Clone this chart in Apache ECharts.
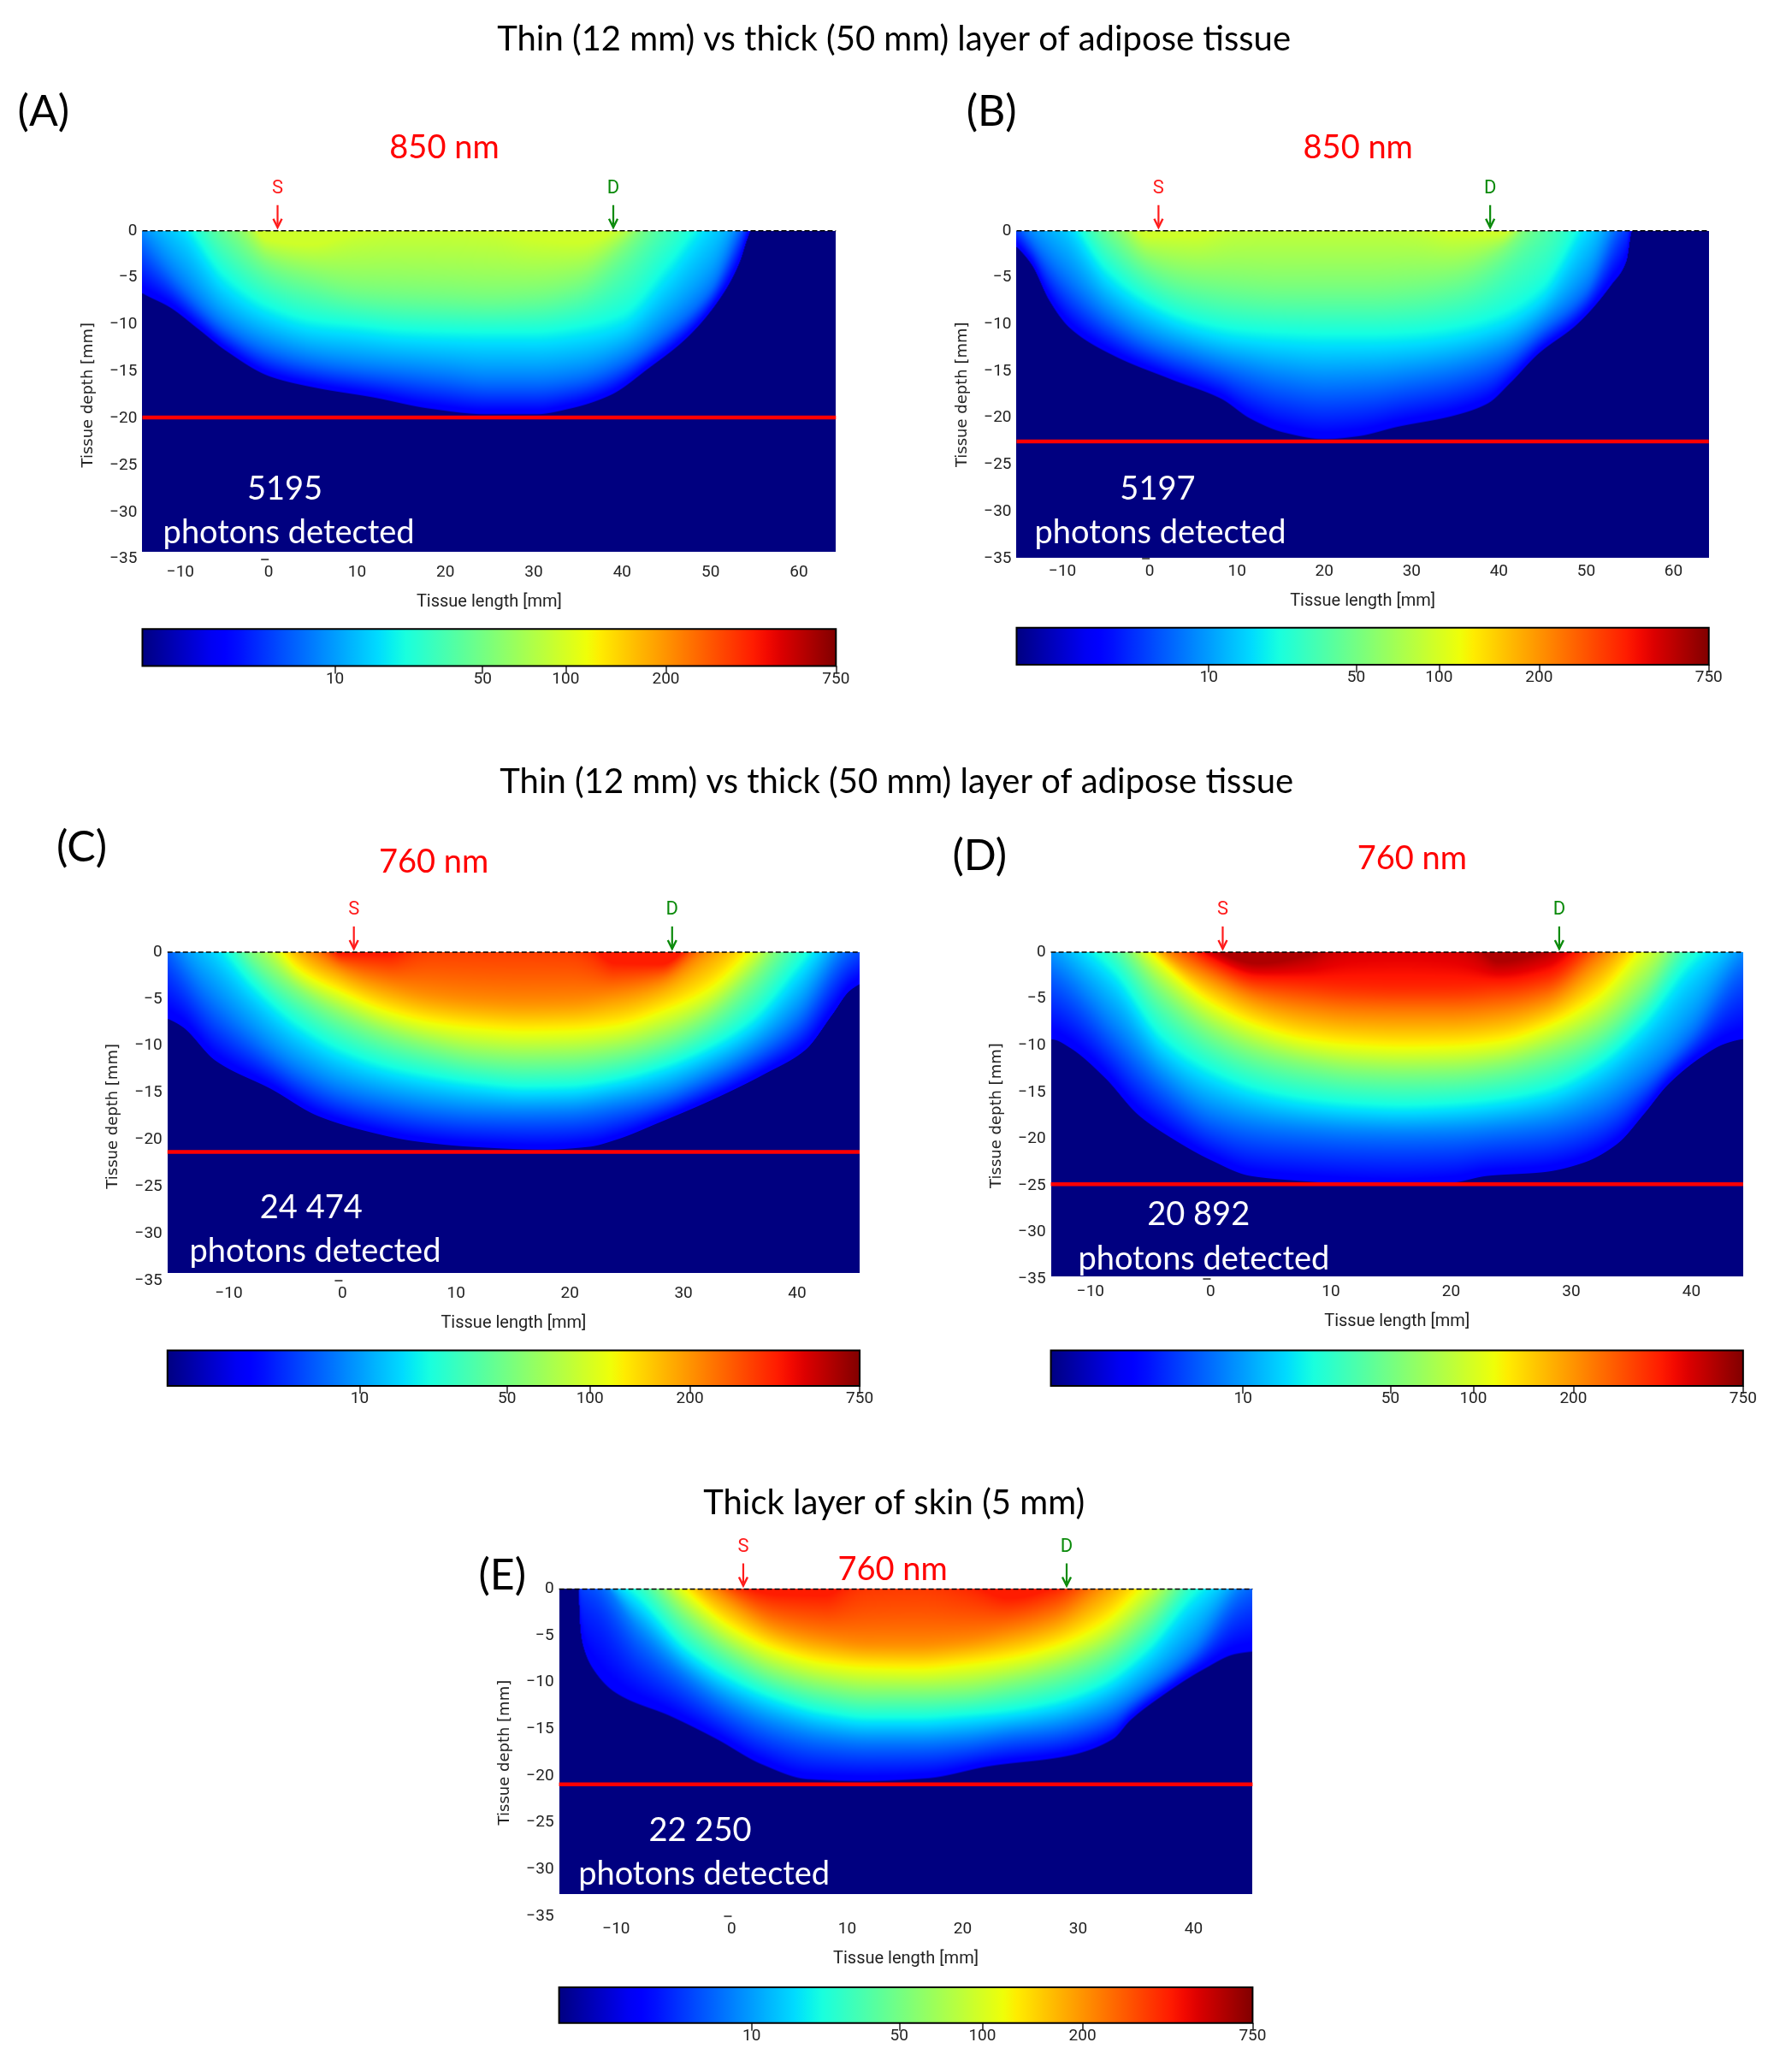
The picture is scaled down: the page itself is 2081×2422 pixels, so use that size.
<!DOCTYPE html>
<html><head><meta charset="utf-8">
<style>html,body{margin:0;padding:0;background:#fff}#c{width:2081px;height:2422px}</style>
<script src="https://cdn.jsdelivr.net/npm/echarts@6/dist/echarts.min.js"></script>
</head><body><div id="c"></div>
<script>
// ---------- values ----------
const xTicksLong = [-10,0,10,20,30,40,50,60];
const xTicksShort = [-10,0,10,20,30,40];
const yTicks = [0,-5,-10,-15,-20,-25,-30,-35];
const barTickLabels = [10,50,100,200,750];
const barTickPos = [0.2776,0.4905,0.6103,0.7548,1];
const levelT = {azure:0.24,cyan:0.36,green:0.5,lime:0.6,yellow:0.65,orange:0.77,red:0.88,dark:0.96};

// Panel A, 850 nm
const A_edgeX = [-16,-14.3,-11.2,-8,-4.9,0.2,5.4,11.8,18.2,24.6,30.3,34.1,38.6,43,47.5,51.4,53.3,54.1,54.45,54.5];
const A_edge  = [-5.5,-6.6,-8.1,-10.4,-12.7,-15.5,-16.7,-17.7,-18.9,-19.5,-19.5,-18.9,-17.5,-14.6,-11.2,-6.7,-3.3,-1,-0.1,0];
const A_x     = [-16,-10,-5,0,5,10,15,20,25,30,35,40,45,50,55,66];
const A_azure = [1,-5.5,-10,-12.5,-13.8,-14.5,-15,-15.5,-16,-16,-15.5,-13.8,-10.5,-6,3,8];
const A_cyan  = [5,1,-5.3,-8.5,-10,-10.5,-11,-11.2,-11.3,-11.3,-10.8,-9.5,-4.5,1.5,6,12];
const A_green = [10,6,1,-3.5,-5,-6,-6.3,-6.5,-6.7,-6.5,-5.5,-2,3,7,11,16];
const A_lime  = [15,11,6,-1,-1.5,-0.3,0.3,0.3,0,-1,-1.3,0.5,5,10,15,20];

// Panel B, 850 nm
const B_edgeX = [-16,-15.2,-13.5,-11.5,-9.2,-4.1,2.4,8.2,11.5,15.4,20,23.8,28.3,34.8,38.7,41.3,44.5,49,52.9,54.6,55.15,55.2];
const B_edge  = [-1,-1.7,-3.6,-7.4,-10.3,-13.3,-15.8,-17.9,-20,-21.5,-22.2,-21.9,-20.9,-19.7,-18.4,-16.2,-13.1,-9.9,-5.7,-3.2,-0.2,0];
const B_x     = [-16,-10,-5,0,5,10,15,20,25,30,35,40,45,50,55,66];
const B_azure = [2,-4.5,-9,-11.8,-13.4,-14.8,-16,-16.6,-16.4,-15.8,-15,-13.5,-10.2,-6,3,8];
const B_cyan  = [6,2,-4.5,-8,-10,-11,-11.4,-11.6,-11.6,-11.4,-10.8,-9.5,-6.5,1,7,12];
const B_green = [12,6,0.8,-3.5,-5,-5.5,-5.8,-5.8,-5.8,-5.5,-4.8,-2.5,2,7,12,17];
const B_lime  = [16,11,5,-0.6,-0.6,0.8,1.2,1.2,1.2,0.8,-0.4,-0.3,4,9,14,19];

// Panel C, 760 nm
const C_edgeX = [-16,-15.3,-14.1,-11.2,-6.2,-2.2,2.3,6.3,11.3,17.7,21.7,24.2,27.7,32.7,37.2,40.7,43.1,44.6,46];
const C_edge  = [-6.8,-7.1,-7.9,-11.5,-14.6,-17.4,-19.1,-20.1,-20.7,-21,-20.7,-19.9,-18.2,-15.6,-12.9,-10.4,-6.6,-4.1,-3];
const C_x      = [-16,-12,-8,-4,0,4,8,12,16,20,24,28,32,36,40,44,48];
const C_azure  = [2,-4.5,-9,-12.5,-14.8,-16,-16.8,-17.2,-17.3,-17.2,-16.5,-15.4,-13.4,-10.8,-7,0,4];
const C_cyan   = [6,2,-3.7,-8,-10.8,-12.5,-13.5,-14.2,-14.6,-14.5,-13.8,-12.5,-10.5,-7.5,-2,4,8];
const C_green  = [11,7,0,-4.2,-7,-9,-10.3,-11.2,-11.5,-11.4,-10.8,-9.5,-7.2,-3,3,8,12];
const C_yellow = [16,11,5,-1.6,-4.2,-6.2,-7.4,-8,-8.3,-8.2,-7.7,-6.2,-3.9,0.6,7,12,16];
const C_orange = [20,15,9,1.5,-1.8,-3.3,-4.2,-4.7,-4.9,-4.8,-4.3,-3.2,0.3,5,11,16,20];
const C_red    = [24,19,13,6,-0.2,-0.3,2.5,3,3,2.5,-1.2,-1.3,3,9,15,20,24];

// Panel D, 760 nm
const D_edgeX = [-16,-13.1,-11.7,-8.8,-6,-3.2,0,3.3,7.1,10.8,15.5,20.2,23,27.7,31,33.8,36.1,38,40.8,42.7,44.1,46];
const D_edge  = [-9,-9.3,-10.2,-13.4,-17.4,-19.9,-22.2,-23.9,-24.4,-24.7,-24.9,-24.6,-23.9,-23.5,-22.5,-20.5,-17.2,-14.2,-11.2,-9.8,-9.3,-9];
const D_x      = [-16,-12,-8,-4,0,4,8,12,16,20,24,28,32,36,40,44,48];
const D_azure  = [1,-3,-8.5,-14,-17.5,-18.8,-19.3,-19.6,-19.7,-19.6,-19.2,-18.6,-17,-13.5,-8.5,-1.5,2];
const D_cyan   = [6,2,-2.5,-9.5,-13,-15,-16,-16.5,-16.7,-16.5,-16,-15,-12.5,-8,-1.5,3,7];
const D_green  = [9,5.5,1.5,-4.5,-8.7,-11,-12.2,-12.9,-13.1,-13,-12.4,-11,-8.7,-4,3,7,11];
const D_yellow = [13,9,4,-1.2,-5.3,-7.8,-9.2,-9.8,-10,-9.9,-9.4,-7.8,-4.8,0.8,6,10,14];
const D_orange = [17,12,7,0.5,-2.7,-5,-6,-6.5,-6.6,-6.6,-6.2,-5,-1,4,9,13,17];
const D_red    = [21,15,10,3.5,-0.8,-2.8,-3,-3.1,-3.2,-3.2,-3.2,-2.3,2,7,12,16,20];
const D_dark   = [25,19,14,7,0.5,-1.2,-0.3,4,6,4,-1,0.3,5,10,15,20,24];

// Panel E, 760 nm
const E_edgeX = [-13.25,-13.2,-13.1,-12.8,-12,-10.1,-5.2,-1.3,2.6,6.6,11.5,16.9,22.3,29.1,33,34.5,37,40.9,43.6,46];
const E_edge  = [0,-2,-4.3,-6.3,-8.5,-11,-13.6,-16,-18.7,-20.3,-20.5,-20.2,-18.9,-17.8,-16,-14,-11.6,-8.5,-6.9,-6.5];
const E_x      = [-16,-12,-8,-4,0,4,8,12,16,20,24,28,32,36,40,44,48];
const E_azure  = [4,1.5,-5,-9.5,-12.8,-15,-16.2,-16.6,-16.6,-16.3,-15.6,-15,-13.6,-10.5,-6.5,-0.3,3];
const E_cyan   = [8,3,-1.2,-6.5,-9.8,-12,-13.4,-14,-14,-13.7,-13.2,-12.3,-10.5,-6.8,-1,3,7];
const E_green  = [12,7,2.5,-3,-6.8,-9.3,-10.6,-11.2,-11.2,-11,-10.2,-9,-7,-3,3,7,11];
const E_yellow = [16,10,5.5,0,-4,-6.5,-7.8,-8.3,-8.4,-8,-7.3,-6,-3.6,1,6,10,14];
const E_orange = [20,14,8.5,2.5,-1.2,-3.9,-5,-5.5,-5.5,-5.2,-4.4,-3,0.5,5,9,13,17];
const E_red    = [24,18,12,6,0.8,-0.6,-0.7,2.5,3,1,-1,0.2,4,9,13,17,21];

const redDepth = {A:-19.9,B:-22.5,C:-21.3,D:-24.85,E:-20.9};
const heatBottom = {A:-34.2,B:-34.9,C:-34.2,D:-34.7,E:-32.6};
const xRange = {A:[-14.3,64.2],B:[-15.26,64.05],C:[-15.4,45.5],D:[-13.3,44.3],E:[-14.95,45.1]};
const sourcePos = {A:1,B:1,C:1,D:1,E:1};
const detectorPos = {A:39,B:39,C:29,D:29,E:29};
const photons = {A:'5195',B:'5197',C:'24 474',D:'20 892',E:'22 250'};
const wavelengths = {A:'850 nm',B:'850 nm',C:'760 nm',D:'760 nm',E:'760 nm'};
const headings = ['Thin (12 mm) vs thick (50 mm) layer of adipose tissue','Thin (12 mm) vs thick (50 mm) layer of adipose tissue','Thick layer of skin (5 mm)'];

// ---------- tables built from the arrays ----------
const fields = {
  A:{edgeX:A_edgeX,edge:A_edge,x:A_x,levels:{azure:A_azure,cyan:A_cyan,green:A_green,lime:A_lime}},
  B:{edgeX:B_edgeX,edge:B_edge,x:B_x,levels:{azure:B_azure,cyan:B_cyan,green:B_green,lime:B_lime}},
  C:{edgeX:C_edgeX,edge:C_edge,x:C_x,levels:{azure:C_azure,cyan:C_cyan,green:C_green,yellow:C_yellow,orange:C_orange,red:C_red}},
  D:{edgeX:D_edgeX,edge:D_edge,x:D_x,levels:{azure:D_azure,cyan:D_cyan,green:D_green,yellow:D_yellow,orange:D_orange,red:D_red,dark:D_dark}},
  E:{edgeX:E_edgeX,edge:E_edge,x:E_x,levels:{azure:E_azure,cyan:E_cyan,green:E_green,yellow:E_yellow,orange:E_orange,red:E_red}}
};

// ---------- layout, in pixels of the page ----------
const K = 2081/1350;
const layout = {
  A:{l:108,r:634,t:175,b:424,barT:477,barB:505,ticks:xTicksLong,tag:[33,85],nm:[337,112],num:[216,371],ph:[219,404]},
  B:{l:771,r:1296,t:175,b:423.5,barT:476,barB:504,ticks:xTicksLong,tag:[752,85],nm:[1030,112],num:[878,371],ph:[880,404]},
  C:{l:127,r:652,t:722,b:971,barT:1024,barB:1051,ticks:xTicksShort,tag:[62,643],nm:[329,654],num:[236,916],ph:[239,949]},
  D:{l:797,r:1322,t:722,b:970,barT:1024,barB:1051,ticks:xTicksShort,tag:[743,649],nm:[1071,651],num:[909,921],ph:[913,955]},
  E:{l:424,r:950,t:1205,b:1453,barT:1507,barB:1534,ticks:xTicksShort,tag:[381,1195],nm:[677,1190],num:[531,1388],ph:[534,1421]}
};
const headingPos = [[678,30],[680,593],[678,1140]];
const bigFont = 'Lato, "Noto Sans", sans-serif';
const tickFont = 'Roboto, "Liberation Sans", sans-serif';

// ---------- colour table and smooth curves used by the renderer ----------
function jet(t){
  const p=(a,b,u)=>a+(b-a)*u;
  const seg=(knots)=>{for(let i=1;i<knots.length;i++){if(t<=knots[i][0]){const a=knots[i-1],b=knots[i];return p(a[1],b[1],(t-a[0])/(b[0]-a[0]||1));}}return knots[knots.length-1][1];};
  return [255*seg([[0,0],[0.35,0],[0.66,1],[0.89,1],[1,0.5]]),
          255*seg([[0,0],[0.125,0],[0.375,1],[0.64,1],[0.91,0],[1,0]]),
          255*seg([[0,0.5],[0.11,1],[0.34,1],[0.65,0],[1,0]])];
}
function curve(xs,ys){
  const n=xs.length,d=[],m=new Array(n);
  for(let i=0;i<n-1;i++)d.push((ys[i+1]-ys[i])/(xs[i+1]-xs[i]));
  m[0]=d[0];m[n-1]=d[n-2];
  for(let i=1;i<n-1;i++){
    if(d[i-1]*d[i]<=0)m[i]=0;
    else{const w1=2*(xs[i+1]-xs[i])+(xs[i]-xs[i-1]),w2=(xs[i+1]-xs[i])+2*(xs[i]-xs[i-1]);m[i]=(w1+w2)/(w1/d[i-1]+w2/d[i]);}
  }
  return function(x){
    if(x<=xs[0])return ys[0];
    if(x>=xs[n-1])return ys[n-1];
    let i=0;while(x>xs[i+1])i++;
    const h=xs[i+1]-xs[i],s=(x-xs[i])/h,s2=s*s,s3=s2*s;
    return (2*s3-3*s2+1)*ys[i]+(s3-2*s2+s)*h*m[i]+(-2*s3+3*s2)*ys[i+1]+(s3-s2)*h*m[i+1];
  };
}
function paintField(key,w,h){
  const f=fields[key],cv=document.createElement('canvas');
  cv.width=w;cv.height=h;
  const g=cv.getContext('2d'),img=g.createImageData(w,h),px=img.data;
  const names=Object.keys(f.levels),ts=[0.11].concat(names.map(n=>levelT[n]));
  const edgeFn=curve(f.edgeX,f.edge),fns=names.map(n=>curve(f.x,f.levels[n]));
  const [x0,x1]=xRange[key],bot=heatBottom[key];
  const firstX=f.edgeX[0],lastX=f.edgeX[f.edgeX.length-1];
  const dy=-bot/h;
  for(let c=0;c<w;c++){
    const x=x0+(x1-x0)*(c+0.5)/w;
    const inside=x>=firstX&&x<=lastX&&!(key==='A'&&x>54.5)&&!(key==='B'&&x>55.2);
    const e=edgeFn(x);
    const ds=[e];
    fns.forEach(fn=>{const v=fn(x);ds.push(Math.max(v,ds[ds.length-1]+0.02));});
    const prof=curve(ds,ts);
    for(let r=0;r<h;r++){
      const d=-(r+0.5)*dy;
      let col=[0,0,128];
      if(inside&&d>=e-dy){
        const cover=Math.min(1,(d-e)/dy+1);
        const cc=jet(d>ds[ds.length-1]?ts[ts.length-1]:prof(Math.max(d,e)));
        col=[cc[0]*cover,cc[1]*cover,cc[2]*cover+128*(1-cover)];
      }
      const o=(r*w+c)*4;
      px[o]=col[0];px[o+1]=col[1];px[o+2]=col[2];px[o+3]=255;
    }
  }
  g.putImageData(img,0,0);
  return cv;
}
const barStops=[];
for(let i=0;i<=50;i++){const c=jet(i/50);barStops.push({offset:i/50,color:'rgb('+c.map(Math.round).join(',')+')'});}

// ---------- option ----------
const grid=[],xAxis=[],yAxis=[],series=[],graphic=[];
const minus=v=>String(v).replace('-','\u2212');
function text(x,y,s,size,color,family,w){graphic.push({type:'text',x:x*K,y:y*K,z:50,silent:true,style:{text:s,fontSize:size,fill:color,fontFamily:family,fontWeight:w||400,align:'center',verticalAlign:'middle'}});}
headings.forEach((h,i)=>text(headingPos[i][0],headingPos[i][1],h,40,'#000',bigFont));

Object.keys(layout).forEach((key,idx)=>{
  const L=layout[key],[xa,xb]=xRange[key];
  const gi=grid.length;
  grid.push({left:L.l*K,width:(L.r-L.l)*K,top:L.t*K,height:(L.b-L.t)*K});
  xAxis.push({type:'value',gridIndex:gi,min:xa,max:xb,name:'Tissue length [mm]',nameLocation:'middle',nameGap:40,
    nameTextStyle:{fontFamily:tickFont,fontSize:20,color:'#222'},
    axisLine:{show:false},splitLine:{show:false},
    axisTick:{show:true,length:9,customValues:L.ticks,lineStyle:{color:'#222',width:1.5}},
    axisLabel:{customValues:L.ticks,formatter:minus,fontFamily:tickFont,fontSize:19,color:'#222',margin:6}});
  yAxis.push({type:'value',gridIndex:gi,min:-35,max:0,name:'Tissue depth [mm]',nameLocation:'middle',nameGap:54,nameRotate:90,
    nameTextStyle:{fontFamily:'"DejaVu Sans"',fontSize:18,color:'#222'},
    axisLine:{show:false},splitLine:{show:false},
    axisTick:{show:true,length:9,customValues:yTicks,lineStyle:{color:'#222',width:1.5}},
    axisLabel:{customValues:yTicks,formatter:minus,fontFamily:tickFont,fontSize:19,color:'#222',margin:6}});
  series.push({type:'custom',xAxisIndex:gi,yAxisIndex:gi,clip:false,silent:true,z:1,
    data:[[xa,0,xb,heatBottom[key]]],encode:{x:[0,2],y:[1,3]},
    renderItem:(p,api)=>{
      const a=api.coord([api.value(0),api.value(1)]),b=api.coord([api.value(2),api.value(3)]);
      const w=Math.round(b[0]-a[0]),h=Math.round(b[1]-a[1]);
      return {type:'image',style:{image:paintField(key,w,h),x:a[0],y:a[1],width:b[0]-a[0],height:b[1]-a[1]}};
    }});
  series.push({type:'line',xAxisIndex:gi,yAxisIndex:gi,symbol:'none',clip:false,silent:true,z:3,
    data:[[xa,redDepth[key]],[xb,redDepth[key]]],lineStyle:{color:'#ff0000',width:4.5}});
  series.push({type:'line',xAxisIndex:gi,yAxisIndex:gi,symbol:'none',clip:false,silent:true,z:3,
    data:[[xa,0],[xb,0]],lineStyle:{color:'#000',width:1.5,type:[6,3]}});
  series.push({type:'custom',xAxisIndex:gi,yAxisIndex:gi,clip:false,silent:true,z:4,
    data:[[sourcePos[key],0,'S','#ff0000'],[detectorPos[key],0,'D','#0a8a0a']],encode:{x:0,y:1},
    renderItem:(p,api)=>{
      const c=api.coord([api.value(0),api.value(1)]);
      const col=p.dataIndex===0?'#ff1a1a':'#0a8a0a',lab=p.dataIndex===0?'S':'D';
      const tip=c[1]-4,tail=c[1]-30;
      return {type:'group',children:[
        {type:'line',shape:{x1:c[0],y1:tail,x2:c[0],y2:tip-3},style:{stroke:col,lineWidth:2.2}},
        {type:'polyline',shape:{points:[[c[0]-5,tip-10],[c[0],tip],[c[0]+5,tip-10]]},style:{stroke:col,lineWidth:2.4,fill:null}},
        {type:'text',x:c[0],y:c[1]-49,style:{text:lab,fill:col,fontSize:22,fontFamily:tickFont,align:'center',verticalAlign:'middle'}}
      ]};
    }});
  // colour bar
  const gb=grid.length;
  grid.push({left:L.l*K,width:(L.r-L.l)*K,top:L.barT*K,height:(L.barB-L.barT)*K});
  xAxis.push({type:'value',gridIndex:gb,min:0,max:1,axisLine:{show:false},splitLine:{show:false},
    axisTick:{show:true,length:9,customValues:barTickPos,lineStyle:{color:'#222',width:1.5}},
    axisLabel:{customValues:barTickPos,formatter:v=>{const i=barTickPos.findIndex(q=>Math.abs(q-v)<1e-6);return i<0?'':String(barTickLabels[i]);},
      fontFamily:tickFont,fontSize:19,color:'#222',margin:6,showMaxLabel:true,showMinLabel:true,hideOverlap:false}});
  yAxis.push({type:'value',gridIndex:gb,min:0,max:1,show:false});
  series.push({type:'custom',xAxisIndex:gb,yAxisIndex:gb,clip:false,silent:true,
    data:[[0,0,1,1]],encode:{x:[0,2],y:[1,3]},
    renderItem:(p,api)=>{
      const a=api.coord([0,1]),b=api.coord([1,0]);
      return {type:'rect',shape:{x:a[0],y:a[1],width:b[0]-a[0],height:b[1]-a[1]},
        style:{fill:new echarts.graphic.LinearGradient(0,0,1,0,barStops),stroke:'#000',lineWidth:2}};
    }});
  text(L.tag[0],L.tag[1],'('+key+')',50,'#000',bigFont);
  text(L.nm[0],L.nm[1],wavelengths[key],38,'#ff0000',bigFont);
  text(L.num[0],L.num[1],photons[key],38,'#fff',bigFont);
  text(L.ph[0],L.ph[1],'photons detected',38,'#fff',bigFont);
});

const chart=echarts.init(document.getElementById('c'),null,{renderer:'canvas',width:2081,height:2422,devicePixelRatio:1});
chart.setOption({animation:false,backgroundColor:'#fff',grid,xAxis,yAxis,series,graphic:{elements:graphic}});
</script></body></html>
